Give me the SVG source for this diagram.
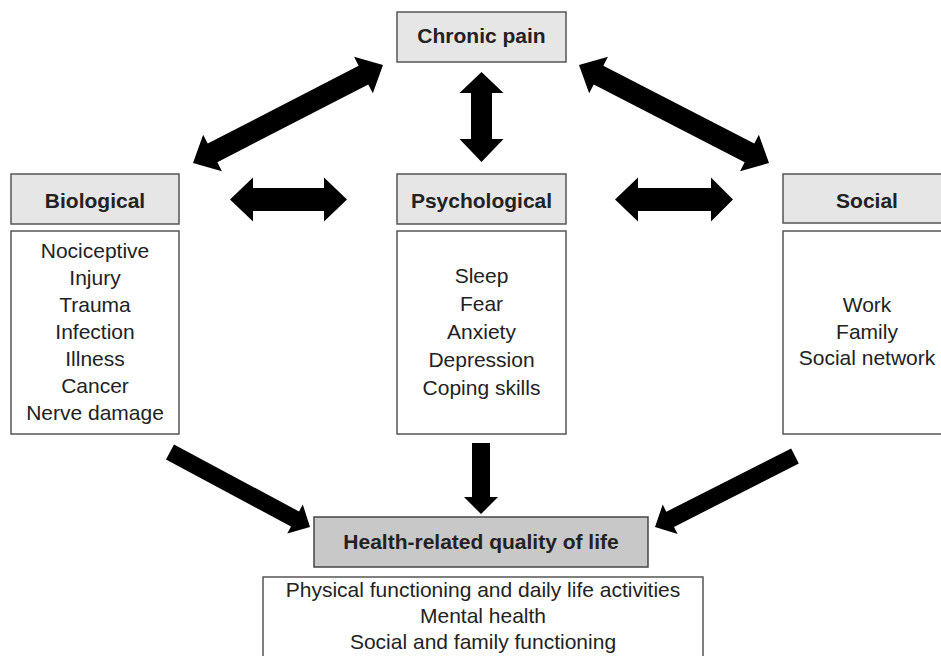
<svg xmlns="http://www.w3.org/2000/svg" width="941" height="656" viewBox="0 0 941 656">
<style>
text{font-family:"Liberation Sans",Arial,sans-serif;fill:#222;text-anchor:middle}
.h{font-size:21px;font-weight:bold}
.b{font-size:21px}
.hdr{fill:#e6e6e6;stroke:#555;stroke-width:1.5}
.box{fill:#fff;stroke:#555;stroke-width:1.5}
.hq{fill:#c8c8c8;stroke:#444;stroke-width:1.5}
.arr{fill:#000}
</style>
<rect width="941" height="656" fill="#fff"/>
<g id="chronic-pain">
<rect class="hdr" x="397" y="12" width="169" height="50"/>
<text class="h" x="481.5" y="43">Chronic pain</text>
</g>
<g id="biological">
<rect class="hdr" x="11" y="174" width="168" height="50"/>
<text class="h" x="95" y="208">Biological</text>
<rect class="box" x="11" y="231" width="168" height="203"/>
<text class="b" x="95" y="258">Nociceptive</text>
<text class="b" x="95" y="285">Injury</text>
<text class="b" x="95" y="312">Trauma</text>
<text class="b" x="95" y="339">Infection</text>
<text class="b" x="95" y="366">Illness</text>
<text class="b" x="95" y="393">Cancer</text>
<text class="b" x="95" y="419.5">Nerve damage</text>
</g>
<g id="psychological">
<rect class="hdr" x="397" y="174" width="169" height="50"/>
<text class="h" x="481.5" y="208">Psychological</text>
<rect class="box" x="397" y="231" width="169" height="203"/>
<text class="b" x="481.5" y="283">Sleep</text>
<text class="b" x="481.5" y="311">Fear</text>
<text class="b" x="481.5" y="339">Anxiety</text>
<text class="b" x="481.5" y="367">Depression</text>
<text class="b" x="481.5" y="395">Coping skills</text>
</g>
<g id="social">
<rect class="hdr" x="783" y="174" width="170" height="49"/>
<text class="h" x="867" y="208">Social</text>
<rect class="box" x="783" y="231" width="170" height="203"/>
<text class="b" x="867" y="312">Work</text>
<text class="b" x="867" y="338.5">Family</text>
<text class="b" x="867" y="365">Social network</text>
</g>
<g id="hrqol">
<rect class="hq" x="314" y="517" width="334" height="50"/>
<text class="h" x="481" y="549">Health-related quality of life</text>
<rect class="box" x="263" y="577" width="440" height="90"/>
<text class="b" x="483" y="597">Physical functioning and daily life activities</text>
<text class="b" x="483" y="623">Mental health</text>
<text class="b" x="483" y="649">Social and family functioning</text>
</g>
<g id="connectors">
<polygon class="arr" points="383,65 372.85,93.3 368.26,84.41 217.36,162.25 221.95,171.14 193,163 203.15,134.7 207.74,143.59 358.64,65.75 354.05,56.86"/>
<polygon class="arr" points="579,65 589.15,93.3 593.74,84.41 744.64,162.25 740.05,171.14 769,163 758.85,134.7 754.26,143.59 603.36,65.75 607.95,56.86"/>
<polygon class="arr" points="481.5,72 503.5,93 492,93 492,139 503.5,139 481.5,162 459.5,139 471,139 471,93 459.5,93"/>
<polygon class="arr" points="230,199.5 253,177.5 253,188 324,188 324,177.5 347,199.5 324,221.5 324,211 253,211 253,221.5"/>
<polygon class="arr" points="615,199.5 638,177.5 638,188 711,188 711,177.5 733,199.5 711,221.5 711,211 638,211 638,221.5"/>
<polygon class="arr" points="472,443 490,443 490,497 498,497 481,514 464,497 472,497"/>
<polygon class="arr" points="310,527 302.8,504.43 299.02,511.48 174.01,444.51 165.99,459.49 291,526.46 287.22,533.51"/>
<polygon class="arr" points="655,527 662.7,504.59 666.32,511.73 791.16,448.42 798.84,463.58 674,526.89 677.62,534.03"/>
</g>
</svg>
